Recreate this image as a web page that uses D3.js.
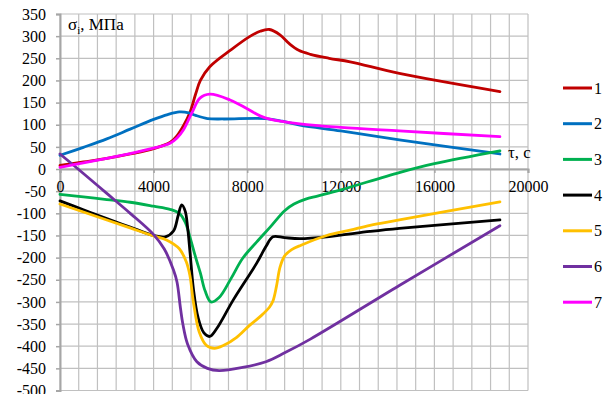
<!DOCTYPE html>
<html><head><meta charset="utf-8">
<script src="https://cdn.jsdelivr.net/npm/d3@7"></script>
<style>body{margin:0;background:#fff}svg{display:block}text{font-family:"Liberation Serif","Times New Roman",serif}</style>
</head><body>
<svg id="c" width="606" height="394"></svg>
<script>
const xTicks = [0, 4000, 8000, 12000, 16000, 20000];
const yTicks = [350,300,250,200,150,100,50,0,-50,-100,-150,-200,-250,-300,-350,-400,-450,-500];
const seriesNames = ["1","2","3","4","5","6","7"];
const seriesColors = ["#c00000","#0070c0","#00b050","#000000","#ffc000","#7030a0","#ff00ff"];

const s1 = [[0,8],[1000,16],[2000,24],[3000,34],[4000,46],[4700,60],[5000,75],[5300,100],[5556,128],[5800,170],[6000,200],[6400,231],[7300,269],[8100,299],[8550,311],[8950,315],[9400,303],[9800,283],[10200,268],[10700,259],[11500,250],[12400,242],[14500,216],[18800,175]];
const s2 = [[0,31],[1000,49],[2000,68],[3000,90],[4000,112],[4600,123],[5100,129],[5500,127],[5800,121],[6300,114],[7000,113],[8800,114],[9500,108],[10250,99],[12000,86],[14500,66],[18800,34]];
const s3 = [[0,-57],[1000,-63],[2000,-69],[3000,-75],[4000,-84],[4700,-91],[5100,-100],[5350,-120],[5550,-153],[5800,-200],[6000,-235],[6200,-275],[6450,-300],[6800,-290],[7300,-248],[7800,-202],[8400,-165],[9000,-130],[9600,-94],[10000,-79],[10500,-68],[11000,-61],[12000,-47],[14500,-8],[16000,12],[18800,41]];
const s4 = [[0,-72],[1000,-92],[2000,-112],[3000,-131],[4000,-150],[4500,-153],[4850,-140],[5050,-105],[5200,-81],[5350,-95],[5450,-130],[5560,-190],[5700,-270],[5900,-335],[6150,-370],[6400,-378],[6700,-360],[7400,-296],[8400,-213],[8800,-175],[9100,-153],[9600,-155],[10250,-157],[11400,-153],[13250,-141],[14500,-134],[18800,-115]];
const s5 = [[0,-79],[1000,-97],[2000,-115],[3000,-133],[4000,-151],[4550,-160],[5100,-180],[5400,-210],[5550,-240],[5700,-300],[5950,-368],[6250,-398],[6600,-405],[7000,-398],[7550,-380],[8100,-353],[8600,-331],[8950,-312],[9100,-298],[9250,-265],[9400,-222],[9600,-196],[9900,-182],[10300,-172],[11400,-150],[12400,-138],[13250,-127],[14500,-115],[18800,-74]];
const s6 = [[0,34],[1000,-10],[2000,-55],[3000,-100],[4000,-148],[4450,-180],[4850,-228],[5000,-255],[5150,-315],[5250,-350],[5450,-395],[5850,-435],[6300,-450],[6800,-455],[7800,-448],[8800,-435],[9600,-415],[10700,-384],[14500,-263],[18800,-128]];
const s7 = [[0,4],[1000,14],[2000,24],[3000,35],[4000,47],[4700,58],[5000,70],[5270,88],[5630,126],[5980,160],[6400,169],[7265,156],[8000,136],[8550,120],[9000,112],[10250,102],[12000,94],[14500,86],[18800,73]];
const allSeries = [s1,s2,s3,s4,s5,s6,s7];

const svg = d3.select("#c");
const x = d3.scaleLinear().domain([0,20000]).range([60,528]);
const y = d3.scaleLinear().domain([-500,350]).range([390.5,14]);

// grid
const g = svg.append("g");
g.selectAll(".hg").data(d3.range(-500,351,50)).join("line")
  .attr("x1",x(0)).attr("x2",x(20000)).attr("y1",d=>y(d)).attr("y2",d=>y(d))
  .attr("stroke","#c0c0c0").attr("stroke-width",1.2);
g.selectAll(".vg").data(d3.range(0,20001,800)).join("line")
  .attr("x1",d=>x(d)).attr("x2",d=>x(d)).attr("y1",y(350)).attr("y2",y(-500))
  .attr("stroke","#c0c0c0").attr("stroke-width",1.2);

// y axis
const ya = svg.append("g").attr("transform",`translate(${x(0)},0)`)
  .call(d3.axisLeft(y).tickValues(yTicks).tickSize(4).tickFormat(d=>d));
ya.select(".domain").attr("stroke","#a6a6a6").attr("stroke-width",2);
ya.selectAll(".tick line").attr("stroke","#a6a6a6").attr("stroke-width",1.5);
ya.selectAll(".tick text").attr("font-size",16).attr("fill","#000").attr("x",-14)
  .style("font-family","'Liberation Serif',serif");

// x axis at y=0
const xa = svg.append("g").attr("transform",`translate(0,${y(0)})`)
  .call(d3.axisBottom(x).tickValues(xTicks).tickSize(4).tickFormat(d=>d));
xa.select(".domain").attr("stroke","#a6a6a6").attr("stroke-width",2);
xa.selectAll(".tick line").attr("stroke","#a6a6a6").attr("stroke-width",1.5);
xa.selectAll(".tick text").attr("font-size",16).attr("fill","#000").attr("y",12)
  .style("font-family","'Liberation Serif',serif");

// lines
const line = d3.line().x(d=>x(d[0])).y(d=>y(d[1])).curve(d3.curveCatmullRom.alpha(0.5));
svg.append("g").selectAll("path").data(allSeries).join("path")
  .attr("d",line).attr("fill","none")
  .attr("stroke",(d,i)=>seriesColors[i]).attr("stroke-width",2.8)
  .attr("stroke-linejoin","round").attr("stroke-linecap","round");

// axis titles
const t1 = svg.append("text").attr("x",68).attr("y",30).attr("font-size",17).attr("fill","#000");
t1.append("tspan").text("σ");
t1.append("tspan").attr("font-size",11).attr("dy",4).text("i");
t1.append("tspan").attr("dy",-4).text(", МПа");
svg.append("text").attr("x",508).attr("y",158).attr("font-size",17).attr("fill","#000").text("τ, с");

// legend
const lg = svg.append("g").selectAll("g").data(seriesNames).join("g")
  .attr("transform",(d,i)=>`translate(563,${88+i*35.7})`);
lg.append("line").attr("x1",0).attr("x2",29).attr("y1",0).attr("y2",0)
  .attr("stroke",(d,i)=>seriesColors[i]).attr("stroke-width",3);
lg.append("text").attr("x",31).attr("y",5.5).attr("font-size",16).attr("fill","#000").text(d=>d);
</script>
</body></html>
